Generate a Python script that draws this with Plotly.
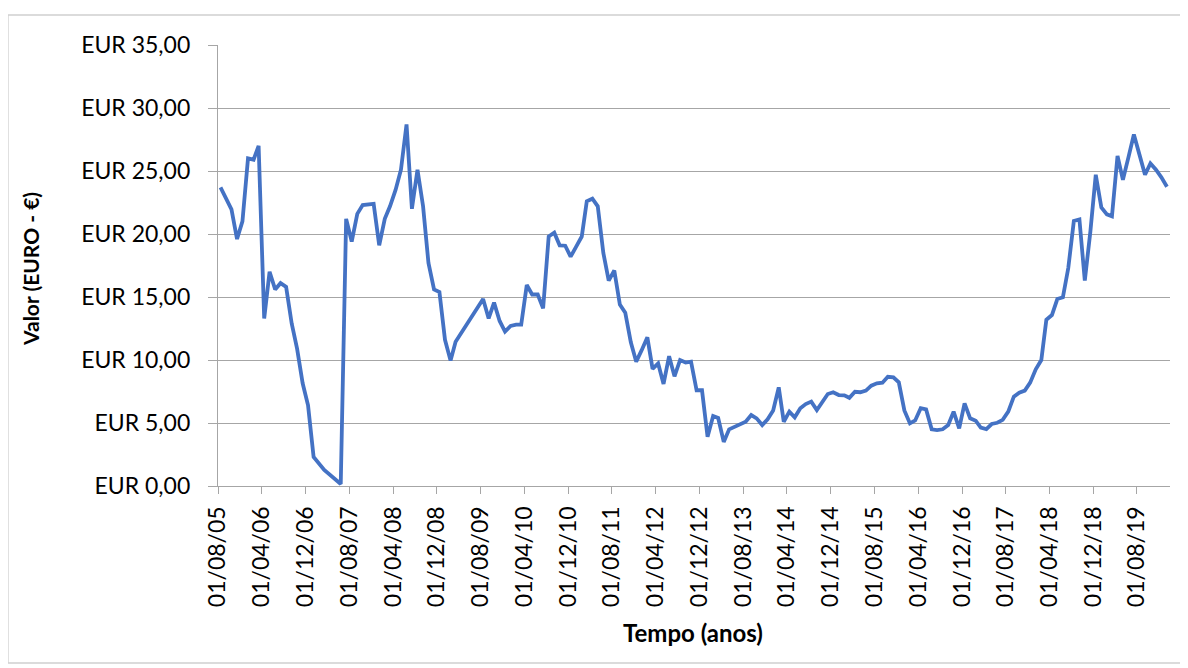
import pandas as pd
import plotly.graph_objects as go

# Months elapsed since Aug 2005 (observations dated mid-month)
month_offsets = [0, 1, 2, 3, 4, 5, 6, 7, 8, 9, 10, 11, 12, 13, 14, 15, 16, 17, 19, 22,
                 23, 24, 25, 26, 27, 28, 29, 30, 31, 32, 33, 34, 35, 36, 37, 38, 39, 40,
                 41, 42, 43, 48, 49, 50, 51, 52, 53, 54, 55, 56, 57, 58, 59, 60, 61, 62,
                 63, 64, 65, 66, 67, 68, 69, 70, 71, 72, 73, 74, 75, 76, 77, 78, 79, 80,
                 81, 82, 83, 84, 85, 86, 87, 88, 89, 90, 91, 92, 93, 94, 95, 96, 97, 98,
                 99, 100, 101, 102, 103, 104, 105, 106, 107, 108, 109, 110, 111, 112, 113,
                 114, 115, 116, 117, 118, 119, 120, 121, 122, 123, 124, 125, 126, 127, 128,
                 129, 130, 131, 132, 133, 134, 135, 136, 137, 138, 139, 140, 141, 142, 143,
                 144, 145, 146, 147, 148, 149, 150, 151, 152, 153, 154, 155, 156, 157, 158,
                 159, 160, 161, 162, 163, 164, 165, 166, 167, 168, 169, 170, 171, 172, 173]

valor = [23.7, 22.75, 21.96, 19.6, 21.0, 26.0, 25.9, 27.0, 13.3, 17.0, 15.6, 16.1, 15.8,
         12.9, 10.9, 8.15, 6.4, 2.3, 1.27, 0.16,
         21.2, 19.4, 21.6, 22.3, 22.35, 22.4, 19.1, 21.2, 22.2, 23.5, 25.1, 28.7, 22.0,
         25.1, 22.2, 17.7, 15.6, 15.4, 11.6, 9.95, 11.45, 14.84, 13.3, 14.55, 13.1, 12.25,
         12.7, 12.8, 12.8, 15.95, 15.2, 15.2, 14.1, 19.8, 20.1, 19.1, 19.07, 18.2, 19.0,
         19.8, 22.6, 22.8, 22.2, 18.5, 16.3, 17.1, 14.4, 13.75, 11.4, 9.87, 10.8, 11.8,
         9.3, 9.73, 8.1, 10.3, 8.7, 10.0, 9.8, 9.87, 7.6, 7.6, 3.9, 5.55, 5.4, 3.5, 4.5,
         4.7, 4.84, 5.1, 5.63, 5.37, 4.84, 5.3, 6.0, 7.83, 5.1, 5.9, 5.45, 6.17, 6.5, 6.7,
         6.03, 6.7, 7.3, 7.44, 7.22, 7.2, 7.0, 7.48, 7.44, 7.57, 7.96, 8.15, 8.2, 8.67,
         8.62, 8.23, 6.0, 4.97, 5.2, 6.17, 6.08, 4.5, 4.44, 4.5, 4.84, 5.9, 4.58, 6.56,
         5.37, 5.18, 4.63, 4.52, 4.92, 5.02, 5.25, 5.9, 7.09, 7.4, 7.57, 8.2, 9.26, 10.0,
         13.2, 13.57, 14.84, 14.97, 17.3, 21.03, 21.16, 16.3, 20.2, 24.7, 22.1, 21.56,
         21.4, 26.2, 24.3, 26.1, 27.9, 26.3, 24.7, 25.6, 25.1, 24.5, 23.75]

start = pd.Timestamp("2005-08-15")
datas = [start + pd.DateOffset(months=m) for m in month_offsets]

x_ticks = pd.date_range("2005-08-01", "2019-08-01", freq="8MS")
x_ticktext = [d.strftime("%d/%m/%y") for d in x_ticks]
y_ticks = [0, 5, 10, 15, 20, 25, 30, 35]
y_ticktext = ["EUR " + f"{v:.2f}".replace(".", ",") for v in y_ticks]

W, H = 1180, 660
L, R, T, B = 210, 18, 37, 182
PW, PH = W - L - R, H - T - B

fig = go.Figure()
fig.add_trace(go.Scatter(x=datas, y=valor, mode="lines",
                         line=dict(color="#4472C4", width=3.8),
                         showlegend=False, hoverinfo="x+y"))

font_family = "Lato, Open Sans, sans-serif"
grid = "#A6A6A6"
fig.update_layout(
    width=W, height=H,
    margin=dict(l=L, r=R, t=T, b=B),
    paper_bgcolor="white", plot_bgcolor="white",
    font=dict(family=font_family, color="black", size=23),
    xaxis=dict(
        range=["2005-08-01", "2020-02-01"],
        tickvals=list(x_ticks), ticktext=x_ticktext,
        tickangle=-90, ticks="outside", ticklen=7, tickcolor=grid,
        showline=True, linecolor=grid, linewidth=1.3,
        showgrid=False, zeroline=False, ticklabelstandoff=3,
        tickfont=dict(size=23, family=font_family),
    ),
    yaxis=dict(
        range=[0, 35],
        tickvals=y_ticks, ticktext=y_ticktext,
        ticks="outside", ticklen=9, tickcolor=grid,
        showline=True, linecolor=grid, linewidth=1.3,
        showgrid=True, gridcolor=grid, gridwidth=1.3,
        zeroline=False, ticklabelstandoff=13,
        tickfont=dict(size=23, family=font_family),
    ),
    annotations=[
        dict(text="<b>Tempo (anos)</b>", xref="paper", yref="paper",
             x=(685 - L) / PW, y=(H - B - 624) / PH, xanchor="center", yanchor="middle",
             showarrow=False, font=dict(size=24, family=font_family)),
        dict(text="<b>Valor (EURO - €)</b>", xref="paper", yref="paper",
             x=(22 - L) / PW, y=(H - B - 261) / PH, xanchor="center", yanchor="middle",
             textangle=-90, showarrow=False, font=dict(size=21, family=font_family)),
    ],
    shapes=[dict(type="rect", xref="paper", yref="paper",
                 x0=(0 - L) / PW, x1=(1173 - L) / PW,
                 y0=(H - B - 655) / PH, y1=(H - B - 7) / PH,
                 line=dict(color="#D0D0D0", width=1.3), fillcolor="rgba(0,0,0,0)", layer="below")],
)

fig.write_html("out.html")
